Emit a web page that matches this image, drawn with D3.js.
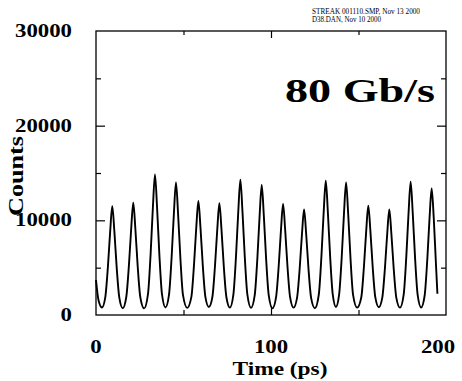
<!DOCTYPE html>
<html>
<head>
<meta charset="utf-8">
<script src="https://cdn.jsdelivr.net/npm/d3@7"></script>
<style>
  body { margin: 0; background: #fff; }
  text { font-family: "Liberation Serif", "Times New Roman", serif; font-weight: bold; fill: #000; }
</style>
</head>
<body>
<div id="chart"></div>
<script>
const width = 462,
    height = 381;

// streak camera trace (time in ps, counts)
var time = [0, 1.5, 3.4,
    5.3, 6.8, 8.1, 9.3, 10.5, 11.8, 13.3, 15.3,
    17.3, 18.8, 20.1, 21.3, 22.5, 23.8, 25.3, 27.5,
    29.7, 31.2, 32.5, 33.7, 34.9, 36.2, 37.7, 39.7,
    41.7, 43.2, 44.5, 45.7, 46.9, 48.2, 49.7, 52.1,
    54.5, 56.0, 57.3, 58.5, 59.7, 61.0, 62.5, 64.5,
    66.5, 68.0, 69.3, 70.5, 71.7, 73.0, 74.5, 76.5,
    78.5, 80.0, 81.3, 82.5, 83.7, 85.0, 86.5, 88.6,
    90.7, 92.2, 93.5, 94.7, 95.9, 97.2, 98.7, 100.8,
    102.9, 104.4, 105.7, 106.9, 108.1, 109.4, 110.9, 112.9,
    114.9, 116.4, 117.7, 118.9, 120.1, 121.4, 122.9, 125.1,
    127.3, 128.8, 130.1, 131.3, 132.5, 133.8, 135.3, 137.1,
    138.9, 140.4, 141.7, 142.9, 144.1, 145.4, 146.9, 149.2,
    151.6, 153.1, 154.4, 155.6, 156.8, 158.1, 159.6, 161.6,
    163.6, 165.1, 166.4, 167.6, 168.8, 170.1, 171.6, 173.7,
    175.8, 177.3, 178.6, 179.8, 181.0, 182.3, 183.8, 185.8,
    187.8, 189.3, 190.6, 191.8, 193.0, 194.2, 195.1];

var counts = [3700, 1500, 800,
    1870, 5080, 8830, 11500, 8830, 5080, 1870, 720,
    1900, 5220, 9090, 11850, 9090, 5220, 1900, 700,
    2200, 6420, 11340, 14850, 11340, 6420, 2200, 800,
    2120, 6080, 10700, 14000, 10700, 6080, 2120, 750,
    1920, 5300, 9240, 12050, 9240, 5300, 1920, 850,
    1900, 5200, 9050, 11800, 9050, 5200, 1900, 780,
    2150, 6200, 10930, 14300, 10930, 6200, 2150, 750,
    2090, 5970, 10500, 13730, 10500, 5970, 2090, 700,
    1890, 5170, 8990, 11720, 8990, 5170, 1890, 780,
    1840, 4940, 8560, 11150, 8560, 4940, 1840, 720,
    2140, 6150, 10840, 14180, 10840, 6150, 2140, 850,
    2120, 6080, 10700, 14000, 10700, 6080, 2120, 780,
    1880, 5100, 8860, 11550, 8860, 5100, 1880, 820,
    1840, 4940, 8560, 11150, 8560, 4940, 1840, 780,
    2130, 6110, 10760, 14080, 10760, 6110, 2130, 800,
    2060, 5830, 10240, 13380, 10240, 5600, 2250];

var yMajor = [10000, 20000];
var yMinor = [5000, 15000, 25000];
var yLabels = [0, 10000, 20000, 30000];
var xMajor = [100];
var xMinor = [50, 150];
var xLabels = [0, 100, 200];

var svg = d3.select("#chart").append("svg")
    .attr("width", width)
    .attr("height", height);

svg.append("rect").attr("width", width).attr("height", height).attr("fill", "#fff");

var x = d3.scaleLinear().domain([0, 200]).range([96, 446]);
var y = d3.scaleLinear().domain([0, 30000]).range([315, 31]);

// ticks, all pointing inward
function ticks(axis, tr) {
    var g = svg.append("g").attr("transform", tr).call(axis);
    g.select(".domain").remove();
    g.selectAll("line").attr("stroke", "#000").attr("stroke-width", 1.2);
}
ticks(d3.axisLeft(y).tickValues(yMajor).tickSize(-9).tickFormat(""), "translate(96,0)");
ticks(d3.axisLeft(y).tickValues(yMinor).tickSize(-5).tickFormat(""), "translate(96,0)");
ticks(d3.axisRight(y).tickValues(yMajor).tickSize(-9).tickFormat(""), "translate(446,0)");
ticks(d3.axisRight(y).tickValues(yMinor).tickSize(-5).tickFormat(""), "translate(446,0)");
ticks(d3.axisBottom(x).tickValues(xMajor).tickSize(-9).tickFormat(""), "translate(0,315)");
ticks(d3.axisBottom(x).tickValues(xMinor).tickSize(-5).tickFormat(""), "translate(0,315)");
ticks(d3.axisTop(x).tickValues(xMajor).tickSize(-7).tickFormat(""), "translate(0,31)");
ticks(d3.axisTop(x).tickValues(xMinor).tickSize(-4).tickFormat(""), "translate(0,31)");

// frame
svg.append("rect")
    .attr("x", x(0)).attr("y", y(30000))
    .attr("width", x(200) - x(0)).attr("height", y(0) - y(30000))
    .attr("fill", "none")
    .attr("stroke", "#000")
    .attr("stroke-width", 1.3);

// trace
var line = d3.line()
    .x((d, i) => x(time[i]))
    .y(d => y(d))
    .curve(d3.curveMonotoneX);

svg.append("path")
    .datum(counts)
    .attr("fill", "none")
    .attr("stroke", "#000")
    .attr("stroke-width", 1.9)
    .attr("stroke-linejoin", "round")
    .attr("d", line);

// tick labels
svg.selectAll(".ylab")
    .data(yLabels)
    .join("text")
    .attr("class", "ylab")
    .attr("x", 72)
    .attr("y", d => y(d) + 6)
    .attr("text-anchor", "end")
    .attr("font-size", 18)
    .attr("textLength", d => String(d).length * 11.4)
    .attr("lengthAdjust", "spacingAndGlyphs")
    .text(d => d);

svg.selectAll(".xlab")
    .data(xLabels)
    .join("text")
    .attr("class", "xlab")
    .attr("x", d => d == 200 ? 438 : x(d))
    .attr("y", 353)
    .attr("text-anchor", "middle")
    .attr("font-size", 18)
    .attr("textLength", d => String(d).length * 11.4)
    .attr("lengthAdjust", "spacingAndGlyphs")
    .text(d => d);

svg.append("text")
    .attr("x", 280).attr("y", 375)
    .attr("text-anchor", "middle")
    .attr("font-size", 19)
    .attr("textLength", 95)
    .attr("lengthAdjust", "spacingAndGlyphs")
    .text("Time (ps)");

svg.append("text")
    .attr("transform", "translate(23,176) rotate(-90)")
    .attr("text-anchor", "middle")
    .attr("font-size", 21)
    .attr("textLength", 80)
    .attr("lengthAdjust", "spacingAndGlyphs")
    .text("Counts");

svg.append("text")
    .attr("x", 435).attr("y", 102)
    .attr("text-anchor", "end")
    .attr("font-size", 33)
    .attr("textLength", 150)
    .attr("lengthAdjust", "spacingAndGlyphs")
    .text("80 Gb/s");

svg.append("text")
    .attr("x", 312).attr("y", 14)
    .attr("font-size", 7.5)
    .style("font-weight", "normal")
    .attr("textLength", 108)
    .attr("lengthAdjust", "spacingAndGlyphs")
    .text("STREAK 001110.SMP, Nov 13 2000");

svg.append("text")
    .attr("x", 312).attr("y", 22)
    .attr("font-size", 7.5)
    .style("font-weight", "normal")
    .attr("textLength", 69)
    .attr("lengthAdjust", "spacingAndGlyphs")
    .text("D38.DAN, Nov 10 2000");
</script>
</body>
</html>
